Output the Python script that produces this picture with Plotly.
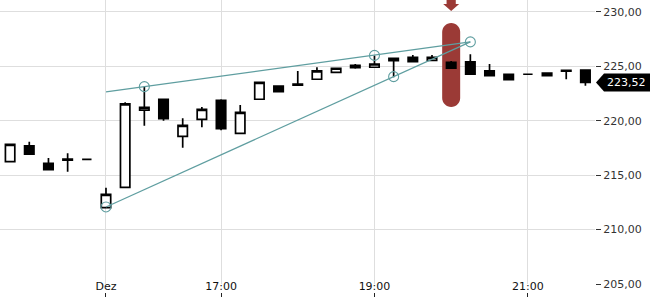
import plotly.graph_objects as go

# ---------------- data ----------------
candle_idx = list(range(31))
opens = [216.24, 217.68, 216.09, 216.47, 216.45, 212.01, 213.88, 220.96, 221.97, 218.57,
         220.13, 221.88, 218.84, 221.97, 223.19, 223.36, 223.81, 224.45, 224.87, 224.91,
         225.73, 225.83, 225.55, 225.37, 225.40, 224.57, 224.27, 224.27, 224.14, 224.62,
         224.66]
highs = [217.83, 218.07, 216.58, 217.01, 216.45, 213.85, 221.69, 223.13, 221.97, 220.22,
         221.26, 221.97, 221.44, 223.53, 223.19, 224.57, 224.91, 224.82, 225.21, 226.00,
         225.73, 226.04, 226.04, 225.49, 226.10, 225.21, 224.27, 224.27, 224.38, 224.62,
         224.66]
lows = [216.24, 216.92, 215.50, 215.32, 216.45, 212.01, 213.88, 219.54, 220.00, 217.52,
        219.40, 219.12, 218.84, 221.97, 222.67, 223.27, 223.81, 224.45, 224.78, 224.91,
        224.00, 225.42, 225.55, 224.82, 224.27, 224.14, 223.77, 224.27, 224.14, 223.81,
        223.22]
closes = [217.83, 216.92, 215.50, 216.38, 216.45, 213.24, 221.54, 221.23, 220.19, 219.58,
          221.05, 219.27, 220.77, 223.53, 222.67, 223.27, 224.57, 224.82, 225.09, 225.21,
          225.51, 225.42, 225.83, 224.82, 224.27, 224.14, 223.77, 224.27, 224.38, 224.56,
          223.52]

x_tick_idx = [5, 11, 19, 27]
x_tick_text = ["Dez", "17:00", "19:00", "21:00"]
y_ticks = [205, 210, 215, 220, 225, 230]
last_price = 223.52

upper_line_x = [5, 24]
upper_line_y = [222.65, 227.24]
lower_line_x = [5, 24]
lower_line_y = [212.08, 227.24]
pivot_x = [5, 7, 19, 20, 24]
pivot_y = [212.08, 223.13, 226.00, 224.05, 227.24]

signal_idx = 23
signal_top = 228.98
signal_bottom = 221.26

# ---------------- layout constants ----------------
W, H = 650, 300
M_R = 55
X_RANGE = [-0.527, 30.5]
Y_RANGE = [205.0, 231.09]
Y_DOM = [16 / 300, 1.0]
PLOT_W = W - M_R
PLOT_H = H * (Y_DOM[1] - Y_DOM[0])
XU = (X_RANGE[1] - X_RANGE[0]) / PLOT_W      # x units per pixel
YU = (Y_RANGE[1] - Y_RANGE[0]) / PLOT_H      # y units per pixel

TEAL = "#5f9ea0"
RED = "#9b3a36"
GRID = "#dedede"
FONT = "DejaVu Sans"


def pill_path(xc, y0, y1, hw, ry):
    k = 0.5523
    yt = y1 - ry
    yb = y0 + ry
    return (f"M {xc-hw},{yb} L {xc-hw},{yt} "
            f"C {xc-hw},{yt+k*ry} {xc-k*hw},{y1} {xc},{y1} "
            f"C {xc+k*hw},{y1} {xc+hw},{yt+k*ry} {xc+hw},{yt} "
            f"L {xc+hw},{yb} "
            f"C {xc+hw},{yb-k*ry} {xc+k*hw},{y0} {xc},{y0} "
            f"C {xc-k*hw},{y0} {xc-hw},{yb-k*ry} {xc-hw},{yb} Z")


def arrow_path(xc, ytop):
    sw, hw = 4.6 * XU, 8.0 * XU
    y_mid = ytop - 4.0 * YU
    y_tip = ytop - 11.0 * YU
    return (f"M {xc-sw},{ytop} L {xc+sw},{ytop} L {xc+sw},{y_mid} L {xc+hw},{y_mid} "
            f"L {xc},{y_tip} L {xc-hw},{y_mid} L {xc-sw},{y_mid} Z")


def to_paper_y(v):
    return Y_DOM[0] + (v - Y_RANGE[0]) / (Y_RANGE[1] - Y_RANGE[0]) * (Y_DOM[1] - Y_DOM[0])


def tag_path(v):
    yc = to_paper_y(v)
    hh = 9.0 / H
    x_tip = 1 + 1.0 / PLOT_W
    x_body = 1 + 9.0 / PLOT_W
    x_end = 1 + 60.0 / PLOT_W
    return (f"M {x_tip},{yc} L {x_body},{yc+hh} L {x_end},{yc+hh} "
            f"L {x_end},{yc-hh} L {x_body},{yc-hh} Z")


fig = go.Figure()

fig.add_trace(go.Candlestick(
    x=candle_idx, open=opens, high=highs, low=lows, close=closes,
    increasing=dict(line=dict(color="#000000", width=1.7), fillcolor="#ffffff"),
    decreasing=dict(line=dict(color="#000000", width=1.7), fillcolor="#000000"),
    whiskerwidth=0, hoverinfo="skip", showlegend=False,
))

fig.add_trace(go.Scatter(x=upper_line_x, y=upper_line_y, mode="lines",
                         line=dict(color=TEAL, width=1.2), hoverinfo="skip", showlegend=False))
fig.add_trace(go.Scatter(x=lower_line_x, y=lower_line_y, mode="lines",
                         line=dict(color=TEAL, width=1.2), hoverinfo="skip", showlegend=False))
fig.add_trace(go.Scatter(x=pivot_x, y=pivot_y, mode="markers",
                         marker=dict(symbol="circle-open", size=10, color=TEAL,
                                     line=dict(width=1.1, color=TEAL)),
                         hoverinfo="skip", showlegend=False))
# invisible trace to create the tick-mark axis
fig.add_trace(go.Scatter(x=[candle_idx[0]], y=[Y_RANGE[0]], xaxis="x2", yaxis="y",
                         mode="markers", marker=dict(opacity=0), hoverinfo="skip",
                         showlegend=False))

# signal pill and arrow
fig.add_shape(type="path", xref="x", yref="y", layer="between",
              path=pill_path(signal_idx, signal_bottom, signal_top, 9.0 * XU, 9.0 * YU),
              fillcolor=RED, line=dict(width=0))
fig.add_shape(type="path", xref="x", yref="y", layer="between",
              path=arrow_path(signal_idx, Y_RANGE[1]),
              fillcolor=RED, line=dict(width=0))

# last price tag
fig.add_shape(type="path", xref="paper", yref="paper", layer="above",
              path=tag_path(last_price), fillcolor="#000000", line=dict(width=0))
fig.add_annotation(xref="paper", yref="y", x=1 + 10.0 / PLOT_W, y=last_price,
                   xanchor="left", yanchor="middle", showarrow=False,
                   text=f"{last_price:.2f}".replace(".", ","),
                   font=dict(family=FONT, size=11, color="#ffffff"))

fig.update_layout(
    width=W, height=H,
    margin=dict(l=0, r=M_R, t=0, b=0, pad=0, autoexpand=False),
    paper_bgcolor="#ffffff", plot_bgcolor="#ffffff",
    separators=",.",
    showlegend=False,
    font=dict(family=FONT, size=11, color="#222222"),
    xaxis=dict(range=X_RANGE, tickmode="array", tickvals=x_tick_idx, ticktext=x_tick_text,
               showgrid=True, gridcolor=GRID, gridwidth=1, zeroline=False, showline=False,
               ticks="", ticklabelstandoff=-6, tickfont=dict(size=11, color="#111111"),
               rangeslider=dict(visible=False), fixedrange=True, automargin=False),
    xaxis2=dict(range=X_RANGE, overlaying="x", anchor="free", position=0.01,
                tickmode="array", tickvals=x_tick_idx, ticks="inside", ticklen=4,
                tickwidth=1, tickcolor="#222222", showticklabels=False, showgrid=False,
                zeroline=False, showline=False, automargin=False),
    yaxis=dict(range=Y_RANGE, domain=Y_DOM, side="right", tickmode="array", tickvals=y_ticks,
               tickformat=".2f", showgrid=True, gridcolor=GRID, gridwidth=1, zeroline=False,
               showline=False, ticks="outside", ticklen=5, tickwidth=1, tickcolor="#333333",
               tickfont=dict(size=11, color="#333333"), fixedrange=True, automargin=False),
)

fig.write_html("out.html")
